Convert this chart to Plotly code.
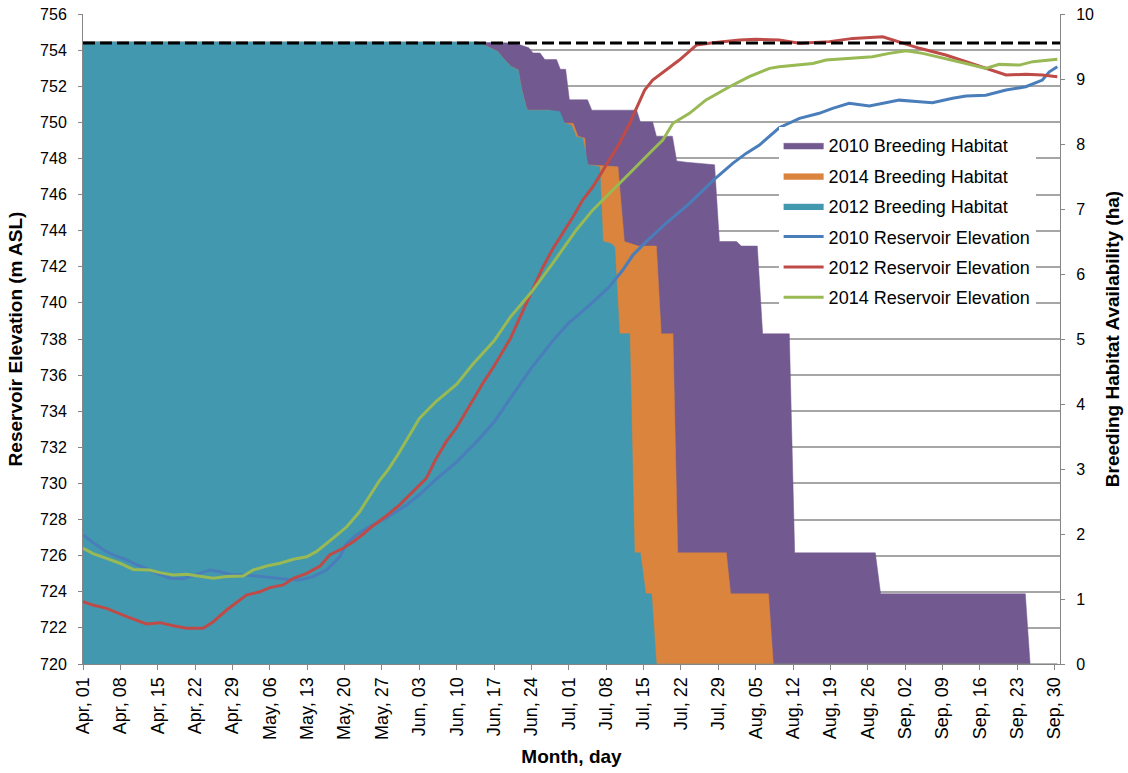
import plotly.graph_objects as go

# ---------------- data ----------------
tick_days = list(range(0, 183, 7))
tick_labels = ["Apr, 01", "Apr, 08", "Apr, 15", "Apr, 22", "Apr, 29", "May, 06", "May, 13",
               "May, 20", "May, 27", "Jun, 03", "Jun, 10", "Jun, 17", "Jun, 24", "Jul, 01",
               "Jul, 08", "Jul, 15", "Jul, 22", "Jul, 29", "Aug, 05", "Aug, 12", "Aug, 19",
               "Aug, 26", "Sep, 02", "Sep, 09", "Sep, 16", "Sep, 23", "Sep, 30"]

# Breeding habitat (ha), day index from Apr 01
hab2010_day = [0, 74, 78, 81, 83.5, 84.3, 85.6, 86.5, 88.7, 89.4, 90.4, 91.1, 94.5, 95.3, 103.7,
               104.4, 106.7, 107.4, 110.4, 111.2, 113, 118.3, 119.2, 122.4, 123.3, 126.3, 127.3,
               132.3, 133.3, 148.4, 149.4, 176.5, 177.4, 182.5]
hab2010_ha = [9.57, 9.57, 9.56, 9.55, 9.48, 9.40, 9.40, 9.30, 9.30, 9.15, 9.15, 8.68, 8.68, 8.52, 8.52,
              8.34, 8.34, 8.12, 8.12, 7.74, 7.72, 7.68, 6.50, 6.50, 6.43, 6.43, 5.08,
              5.08, 1.71, 1.71, 1.08, 1.08, 0, 0]

hab2014_day = [0, 73.9, 76.5, 77.7, 78.7, 80.2, 81.5, 82.1, 83.0, 83.3, 87.4, 88.3, 90.5, 91.8, 92.7,
               94.0, 94.3, 100.2, 101.4, 104, 107.4, 108.3, 110.5, 111.4, 120.5, 121.3, 128.4, 129.3, 182.5]
hab2014_ha = [9.57, 9.57, 9.47, 9.42, 9.32, 9.19, 9.14, 8.86, 8.57, 8.52, 8.52, 8.34, 8.32, 8.32, 8.12,
              8.09, 7.68, 7.65, 6.50, 6.43, 6.43, 5.08, 5.08, 1.71, 1.71, 1.08, 1.08, 0, 0]

hab2012_day = [0, 73.9, 76.5, 77.7, 78.7, 80.2, 81.5, 82.1, 83.0, 83.3, 87.4, 89.3, 90.2, 91.5, 92.4,
               93.6, 94.6, 96.8, 97.4, 98.9, 99.6, 100.5, 102.4, 103.3, 104.4, 105.4, 106.5, 107.4, 182.5]
hab2012_ha = [9.57, 9.57, 9.47, 9.42, 9.32, 9.19, 9.14, 8.86, 8.57, 8.52, 8.52, 8.50, 8.32, 8.29, 8.11,
              8.09, 7.68, 7.65, 6.50, 6.47, 6.42, 5.08, 5.08, 1.71, 1.71, 1.08, 1.08, 0, 0]

# Reservoir elevation (m ASL)
elev2010_day = [0, 2, 4.4, 6, 8.2, 10, 11.9, 14, 16.3, 18.8, 21.9, 23.8, 25.6, 27.5, 30.6, 34.4, 38.1,
                40.6, 43.1, 45.6, 48.1, 49.4, 51, 53.1, 56.8, 60.6, 63.1, 66, 70, 74, 77, 80, 84, 88,
                91, 94.9, 98.6, 101.1, 103.0, 105.5, 109.2, 113.6, 118.3, 121.7, 124.2, 126.7, 130.4,
                134.2, 137.9, 140.4, 143.5, 147.3, 151.0, 152.9, 156.7, 159.1, 162.9, 165.4, 169.1,
                172.9, 176.6, 179.7, 181.0, 182.5]
elev2010 = [727.15, 726.7, 726.22, 726.0, 725.76, 725.5, 725.30, 725.0, 724.75, 724.72, 725.02, 725.21,
            725.11, 724.97, 724.93, 724.80, 724.69, 724.65, 724.84, 725.21, 725.94, 726.68, 727.1,
            727.52, 728.07, 728.81, 729.4, 730.2, 731.2, 732.4, 733.4, 734.7, 736.4, 737.9, 738.9,
            739.88, 740.9, 741.82, 742.65, 743.39, 744.41, 745.51, 746.85, 747.73, 748.28, 748.74,
            749.70, 750.22, 750.50, 750.77, 751.05, 750.90, 751.14, 751.23, 751.14, 751.09, 751.33,
            751.46, 751.50, 751.79, 751.97, 752.34, 752.80, 753.08]

elev2012_day = [0, 2, 4.4, 8.2, 11.9, 14.4, 16.9, 19.4, 22.5, 24.4, 26.9, 30.6, 33.1, 35.0, 37.5, 39.4,
                41.9, 44.4, 46.2, 48.7, 50.6, 52.5, 54.3, 56.8, 59.3, 61.8, 64.3, 66, 68, 70, 73, 75,
                77, 80, 82, 84, 86, 88, 90.2, 91.8, 93.6, 95.5, 98.0, 100.5, 102.4, 103.6, 105.2,
                106.7, 109.9, 111.7, 114.9, 118.0, 123.0, 126, 130.4, 134.2, 139.8, 144.2, 149.8,
                152.9, 156.7, 161.6, 165.4, 169.1, 172.9, 176.6, 179.7, 182.5]
elev2012 = [723.45, 723.25, 723.08, 722.62, 722.22, 722.29, 722.12, 721.98, 721.98, 722.34, 722.99,
            723.82, 724.0, 724.23, 724.38, 724.75, 725.02, 725.43, 726.04, 726.41, 726.77, 727.2,
            727.66, 728.2, 728.81, 729.54, 730.28, 731.3, 732.3, 733.1, 734.6, 735.6, 736.5, 738.0,
            739.3, 740.6, 741.9, 743.0, 744.04, 744.77, 745.70, 746.43, 747.64, 748.84, 749.95,
            750.78, 751.79, 752.34, 753.08, 753.45, 754.28, 754.41, 754.56, 754.6, 754.56, 754.38,
            754.47, 754.65, 754.74, 754.47, 754.10, 753.73, 753.36, 752.99, 752.62, 752.66, 752.62,
            752.53]

elev2014_day = [0, 2, 4.4, 6.9, 9.4, 12.5, 14.4, 16.9, 19.4, 21.9, 24.4, 26.9, 30.0, 31.9, 34.4, 36.9,
                39.4, 41.9, 43.7, 46.8, 49.4, 51.8, 54.3, 55.6, 57, 59, 61, 63, 66, 70, 73, 77, 80,
                84, 88, 92.4, 95.5, 99.3, 103.0, 106.7, 108.6, 110.5, 113.6, 116.7, 121.1, 124.8,
                128.6, 130.4, 134.2, 136.7, 139.2, 142.9, 147.9, 151.0, 154.2, 157.3, 161.6, 165.4,
                169.1, 171.6, 175.4, 177.9, 182.5]
elev2014 = [726.41, 726.1, 725.85, 725.58, 725.24, 725.21, 725.06, 724.93, 724.97, 724.84, 724.75,
            724.84, 724.87, 725.21, 725.43, 725.58, 725.80, 725.94, 726.22, 726.96, 727.60, 728.43,
            729.54, 730.19, 730.7, 731.6, 732.6, 733.6, 734.5, 735.5, 736.6, 737.9, 739.2, 740.6,
            742.2, 744.04, 745.15, 746.25, 747.36, 748.47, 749.02, 749.95, 750.50, 751.24, 751.97,
            752.53, 752.99, 753.08, 753.17, 753.26, 753.45, 753.54, 753.63, 753.82, 753.97, 753.82,
            753.54, 753.26, 752.99, 753.21, 753.17, 753.36, 753.5]

full_pool_day = [0, 183]
full_pool_elev = [754.4, 754.4]

# ---------------- figure ----------------
FONT = "Liberation Sans, Arial, sans-serif"
fig = go.Figure()

areas = [("2010 Breeding Habitat", hab2010_day, hab2010_ha, "#72598F"),
         ("2014 Breeding Habitat", hab2014_day, hab2014_ha, "#DB843D"),
         ("2012 Breeding Habitat", hab2012_day, hab2012_ha, "#4298AF")]
for name, d, v, c in areas:
    fig.add_trace(go.Scatter(x=d, y=v, name=name, mode="lines", fill="tozeroy",
                             line=dict(color=c, width=0.5), fillcolor=c, yaxis="y",
                             legendgroup=name))

lines = [("2010 Reservoir Elevation", elev2010_day, elev2010, "#4A7EBB"),
         ("2012 Reservoir Elevation", elev2012_day, elev2012, "#BE4B48"),
         ("2014 Reservoir Elevation", elev2014_day, elev2014, "#98B954")]
for name, d, v, c in lines:
    fig.add_trace(go.Scatter(x=d, y=v, name=name, mode="lines", line=dict(color=c, width=3),
                             yaxis="y2", legendgroup=name))

fig.add_trace(go.Scatter(x=full_pool_day, y=full_pool_elev, mode="lines", showlegend=False,
                         line=dict(color="black", width=3, dash="12px,5px"), yaxis="y2"))

# invisible carrier so the right-hand habitat axis (0-10 ha) gets drawn
fig.add_trace(go.Scatter(x=[0], y=[0], mode="markers", marker=dict(opacity=0), yaxis="y3",
                         showlegend=False, hoverinfo="skip"))

axis_line = "#868686"
fig.update_layout(
    width=1128, height=773,
    margin=dict(l=83, r=68, t=14, b=109),
    paper_bgcolor="white", plot_bgcolor="white",
    font=dict(family=FONT, size=16, color="black"),
    showlegend=True,
    legend=dict(x=0.712, y=0.826, xanchor="left", yanchor="top", bgcolor="white",
                font=dict(size=18, family=FONT), traceorder="grouped", tracegroupgap=4,
                itemwidth=40),
    xaxis=dict(range=[0, 183], tickmode="array", tickvals=tick_days, ticktext=tick_labels,
               tickangle=-90, ticks="outside", ticklen=5, tickcolor=axis_line,
               showline=True, linecolor=axis_line, linewidth=1, showgrid=False, zeroline=False,
               tickfont=dict(size=18), automargin=False,
               title=dict(text="<b>Month, day</b>", font=dict(size=19), standoff=10)),
    # base axis (habitat, ha) carries the gridlines so they stay beneath the areas
    yaxis=dict(range=[0, 10], tick0=0, dtick=10 / 18, side="right", ticks="",
               showticklabels=False, showline=True, linecolor=axis_line,
               showgrid=True, gridcolor="#A6A6A6", gridwidth=1.5, zeroline=False,
               automargin=False),
    yaxis2=dict(range=[720, 756], dtick=2, overlaying="y", side="left", ticks="outside",
                ticklen=4, tickcolor=axis_line, showline=True, linecolor=axis_line,
                showgrid=False, zeroline=False, tickfont=dict(size=16), automargin=False,
                ticklabelstandoff=8,
                title=dict(text="<b>Reservoir Elevation (m ASL)</b>", font=dict(size=19),
                           standoff=12)),
    yaxis3=dict(range=[0, 10], dtick=1, overlaying="y", side="right", anchor="x",
                ticks="outside", ticklen=4, tickcolor=axis_line, showline=False,
                showgrid=False, zeroline=False, tickfont=dict(size=16), automargin=False,
                ticklabelstandoff=8,
                title=dict(text="<b>Breeding Habitat Availability (ha)</b>", font=dict(size=19),
                           standoff=12)),
)

fig.write_html("out.html", config={"displayModeBar": False},
               post_script="document.body.style.margin='0';")
